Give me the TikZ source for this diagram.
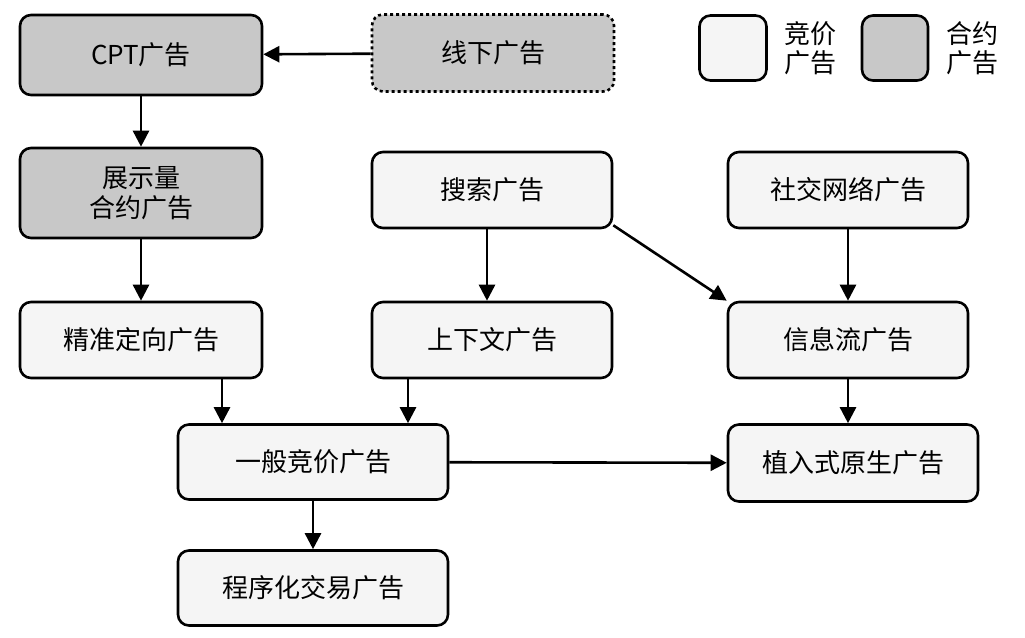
\documentclass[tikz,border=0pt]{standalone}
\usepackage{fontspec}
\setmainfont{Noto Sans CJK SC}
\usetikzlibrary{arrows.meta}
\definecolor{lite}{HTML}{F5F5F5}
\definecolor{dark}{HTML}{C8C8C8}
\begin{document}
\begin{tikzpicture}[x=1pt,y=-1pt,
 box/.style={draw,line width=2.6pt,rounded corners=11pt,fill=lite,font=\fontsize{26}{30}\selectfont,align=center,inner sep=0pt},
 gbox/.style={box,fill=dark},
 arr/.style={-{Triangle[length=16pt,width=16pt]},line width=2.6pt}]
\useasboundingbox (0,0) rectangle (1025,637);
\node[gbox,minimum width=242,minimum height=80] (cpt) at (141,55) {CPT广告};
\node[gbox,dashed,minimum width=242,minimum height=77] (xx) at (493,53) {线下广告};
\node[box,minimum width=67,minimum height=65] (l1) at (733,48) {};
\node[font=\fontsize{26}{29}\selectfont,align=left] (l1t) at (810,48) {竞价\\广告};
\node[gbox,minimum width=66,minimum height=65] (l2) at (895,48) {};
\node[font=\fontsize{26}{29}\selectfont,align=left] (l2t) at (972,48) {合约\\广告};
\node[gbox,minimum width=242,minimum height=90] (zs) at (141,193) {展示量\\合约广告};
\node[box,minimum width=240,minimum height=76] (ss) at (492,190) {搜索广告};
\node[box,minimum width=240,minimum height=76] (sj) at (848,190) {社交网络广告};
\node[box,minimum width=242,minimum height=76] (jz) at (141,340) {精准定向广告};
\node[box,minimum width=240,minimum height=76] (sx) at (492,340) {上下文广告};
\node[box,minimum width=240,minimum height=76] (xl) at (848,340) {信息流广告};
\node[box,minimum width=270,minimum height=75] (yb) at (313,462) {一般竞价广告};
\node[box,minimum width=250,minimum height=77] (zr) at (853,463) {植入式原生广告};
\node[box,minimum width=270,minimum height=75] (cx) at (313,588) {程序化交易广告};
\draw[arr] (xx) -- (cpt);
\draw[arr] (cpt) -- (zs);
\draw[arr] (zs) -- (jz);
\draw[arr] (ss.south -| 487,0) -- (sx.north -| 487,0);
\draw[arr] (ss.south east) ++(0,-4) -- (xl.north west);
\draw[arr] (sj) -- (xl);
\draw[arr] (jz.south -| 222,0) -- (yb.north -| 222,0);
\draw[arr] (sx.south -| 408,0) -- (yb.north -| 408,0);
\draw[arr] (xl) -- (xl.center |- zr.north);
\draw[arr] (yb) -- (zr);
\draw[arr] (yb) -- (cx);
\end{tikzpicture}
\end{document}
